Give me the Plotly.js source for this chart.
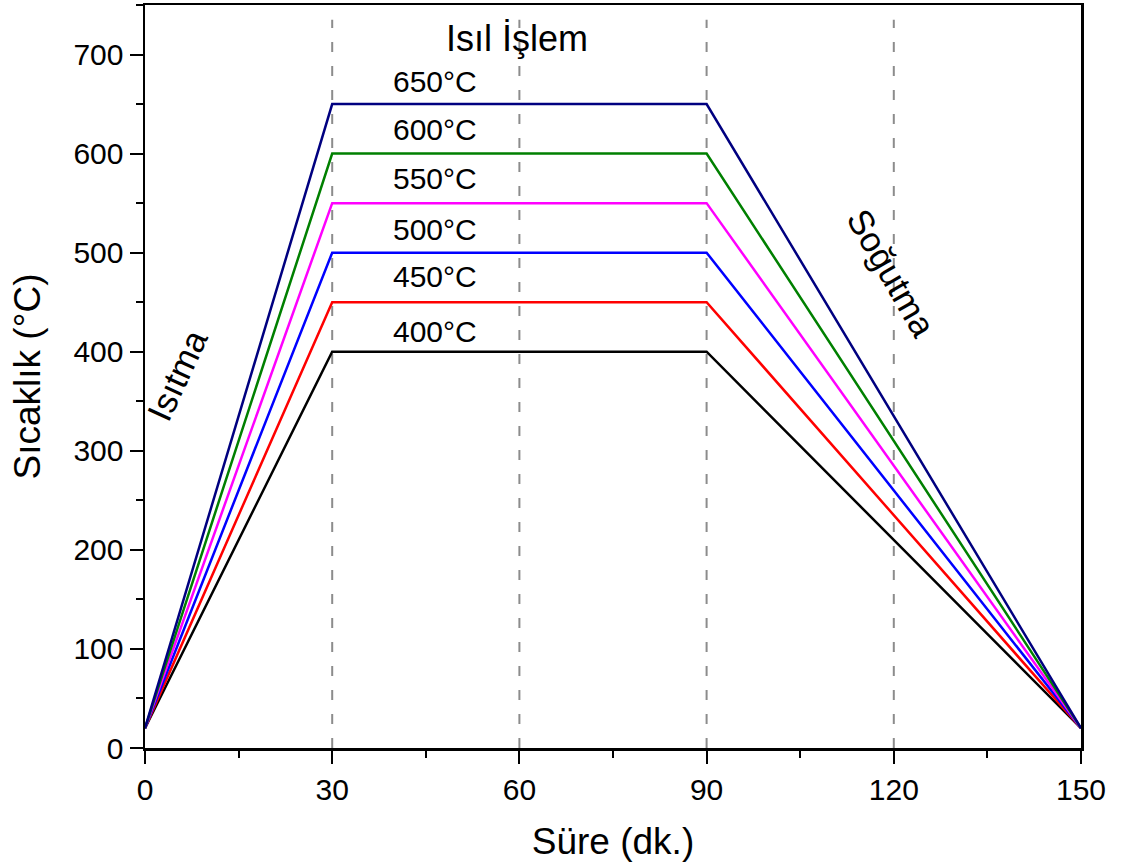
<!DOCTYPE html>
<html>
<head>
<meta charset="utf-8">
<script src="https://cdn.plot.ly/plotly-3.0.1.min.js"></script>
<style>html,body{margin:0;padding:0;background:#fff;}#chart{width:1122px;height:868px;}</style>
</head>
<body>
<div id="chart"></div>
<script>
// Data
const timePoints = [0, 30, 90, 150];          // minutes: start, end heating, end hold, end cooling
const startTemp = 20;                          // °C at start and end
const holdTemps = [400, 450, 500, 550, 600, 650];
const seriesLabels = ["400°C", "450°C", "500°C", "550°C", "600°C", "650°C"];
const seriesColors = ["#000000", "#ff0000", "#0000ff", "#ff00ff", "#008000", "#000080"];
const phaseLines = [30, 60, 90, 120];
const xTicks = [0, 30, 60, 90, 120, 150];
const yTicks = [0, 100, 200, 300, 400, 500, 600, 700];

const FONT = "Liberation Sans, Arial, sans-serif";

const traces = holdTemps.map((T, i) => ({
  type: "scatter",
  mode: "lines",
  x: timePoints,
  y: [startTemp, T, T, startTemp],
  line: { color: seriesColors[i], width: 2.5 },
  name: seriesLabels[i],
  showlegend: false,
  hoverinfo: "skip"
}));

const labelOffsets = [20, 26, 23, 25, 24, 23];
const annotations = holdTemps.map((T, i) => ({
  x: 46.5, y: T + labelOffsets[i], xref: "x", yref: "y",
  text: seriesLabels[i], showarrow: false,
  font: { family: FONT, size: 30, color: "#000" },
  xanchor: "center", yanchor: "middle"
}));
annotations.push(
  { x: 59.6, y: 716, xref: "x", yref: "y", text: "Isıl İşlem", showarrow: false,
    font: { family: FONT, size: 36, color: "#000" }, xanchor: "center", yanchor: "middle" },
  { x: 5.2, y: 377, xref: "x", yref: "y", text: "Isıtma", showarrow: false, textangle: -65,
    font: { family: FONT, size: 35, color: "#000" }, xanchor: "center", yanchor: "middle" },
  { x: 119.7, y: 479, xref: "x", yref: "y", text: "Soğutma", showarrow: false, textangle: 60,
    font: { family: FONT, size: 35, color: "#000" }, xanchor: "center", yanchor: "middle" }
);

const shapes = phaseLines.map(v => ({
  type: "line", xref: "x", yref: "y", x0: v, x1: v, y0: 0, y1: 735,
  line: { color: "#8c8c8c", width: 2, dash: "10px,14px" }, layer: "below"
}));

const layout = {
  width: 1122, height: 868,
  margin: { l: 145, r: 41, t: 5, b: 120 },
  paper_bgcolor: "#fff", plot_bgcolor: "#fff",
  font: { family: FONT, color: "#000" },
  xaxis: {
    range: [0, 150], tickvals: xTicks, ticktext: xTicks.map(String),
    showgrid: false, zeroline: false,
    showline: true, linecolor: "#000", linewidth: 2.5, mirror: true,
    ticks: "outside", ticklen: 13, tickwidth: 2, tickcolor: "#000",
    minor: { ticks: "outside", dtick: 15, ticklen: 7, tickwidth: 2, tickcolor: "#000", showgrid: false },
    tickfont: { family: FONT, size: 30, color: "#000" },
    title: { text: "Süre (dk.)", font: { family: FONT, size: 37, color: "#000" }, standoff: 24 }
  },
  yaxis: {
    range: [0, 750], tickvals: yTicks, ticktext: yTicks.map(String),
    showgrid: false, zeroline: false,
    showline: true, linecolor: "#000", linewidth: 2.5, mirror: true,
    ticks: "outside", ticklen: 13, tickwidth: 2, tickcolor: "#000",
    minor: { ticks: "outside", dtick: 50, ticklen: 7, tickwidth: 2, tickcolor: "#000", showgrid: false },
    tickfont: { family: FONT, size: 30, color: "#000" },
    title: { text: "Sıcaklık (°C)", font: { family: FONT, size: 37, color: "#000" }, standoff: 22 }
  },
  shapes: shapes,
  annotations: annotations,
  showlegend: false
};

Plotly.newPlot("chart", traces, layout, { displayModeBar: false, staticPlot: true });
</script>
</body>
</html>
